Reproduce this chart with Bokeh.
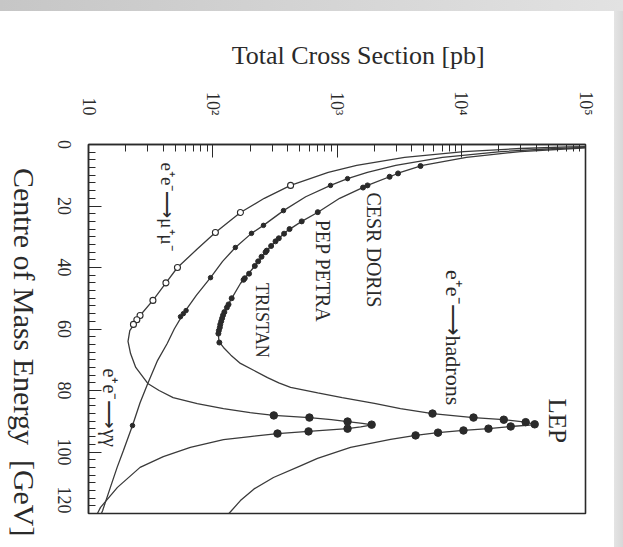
from math import pi
from bokeh.plotting import figure
from bokeh.models import Range1d, FixedTicker, LinearAxis, LogAxis, Div
from bokeh.layouts import column, row
from bokeh.core.properties import value
from bokeh.embed import file_html
from bokeh.resources import INLINE

# ---------------- axis ticks ----------------
sigma_ticks = [10, 100, 1000, 10000, 100000]
sigma_tick_labels = ["10", "10²", "10³", "10⁴", "10⁵"]
energy_ticks = [0, 20, 40, 60, 80, 100, 120]
energy_tick_labels = ["0", "20", "40", "60", "80", "100", "120"]

# ---------------- theory curves (E in GeV, sigma in pb) ----------------
mumu_E = [0.6, 0.8, 1.3, 2.3, 4.2, 6.8, 9.1, 13.3, 17.5, 22.1, 28.6, 34.0, 40.0, 45.0,
          50.7, 55.6, 60.5, 64.0, 68.0, 72.5, 77.7, 80.0, 82.3, 84.3, 85.9, 87.2, 88.1,
          88.8, 89.5, 90.1, 90.7, 91.2, 91.8, 92.4, 93.3, 94.0, 95.0, 96.0, 98.5, 101.5,
          105.0, 111.5, 118.0, 120.0]
mumu_sigma = [120000, 72000, 30000, 10500, 3500, 1440, 850, 423, 260, 167, 105, 75, 52, 42,
              33, 26, 21.5, 20.8, 21.8, 24, 30, 37, 48, 75, 122, 200, 310,
              600, 900, 1216, 1600, 1930, 1550, 1216, 590, 332, 200, 122, 66, 40,
              26, 17.1, 12.5, 11.8]

gg_E = [0.95, 1.3, 2.3, 4.2, 6.8, 9.1, 11.1, 13.3, 17.0, 21.5, 26.3, 28.9, 33.5, 38.0,
        43.3, 49.0, 55.0, 60.0, 64.7, 70.2, 77.7, 84.0, 91.4, 99.5, 105.0, 111.5, 119.0, 120.0]
gg_sigma = [100000, 58000, 20900, 7070, 2970, 1756, 1216, 887, 560, 371, 256, 205, 152, 120,
            96, 74, 58, 49, 43, 36, 30, 26, 22.6, 19.1, 17.0, 15.0, 13.0, 12.7]

had_E = [1.1, 1.3, 2.3, 4.2, 6.8, 9.1, 13.3, 17.5, 22.1, 25.0, 28.0, 31.2, 34.0, 40.0,
         45.2, 50.7, 55.0, 58.5, 61.5, 64.0, 66.0, 68.5, 71.2, 73.5, 75.8, 77.5, 79.0,
         80.8, 82.3, 84.2, 85.9, 87.5, 88.8, 89.5, 90.3, 91.1, 91.7, 92.4, 93.0, 93.7,
         94.6, 95.9, 98.5, 102.1, 104.5, 108.3, 112.0, 115.8, 120.0]
had_sigma = [100000, 80000, 30000, 11000, 4880, 3240, 1760, 1050, 697, 520, 400, 325, 280, 213,
             167, 139, 122, 115, 111, 112, 122, 140, 167, 215, 276, 340, 423,
             700, 1100, 2000, 3240, 5870, 12550, 22000, 33000, 40000, 25000, 16560, 10420, 6500,
             4290, 2700, 1285, 697, 508, 308, 215, 167, 135]

# ---------------- measurements ----------------
had_data_E = [7.0, 9.4, 10.5, 13.3, 14.0, 22.0, 25.0, 27.5, 29.0, 30.5, 31.5, 33.0, 34.5, 35.0,
              36.5, 38.0, 39.5, 42.0, 43.5, 44.0, 50.0, 52.0, 53.0, 54.5, 55.5, 56.5, 57.5,
              58.5, 59.5, 60.5, 61.5, 64.4]
had_data_sigma = [4700, 3100, 2650, 1760, 1620, 700, 520, 415, 375, 340, 320, 295, 272, 266,
                  247, 232, 218, 196, 181, 177, 142, 134, 130, 124, 121, 119, 117,
                  115, 114, 112, 111, 113]

lep_had_E = [87.5, 88.8, 89.5, 90.3, 91.0, 91.7, 92.4, 93.0, 93.7, 94.6]
lep_had_sigma = [5870, 12550, 22000, 33000, 39000, 25000, 16560, 10420, 6500, 4290]

lep_mumu_E = [88.1, 88.8, 90.1, 91.1, 92.4, 93.3, 94.0]
lep_mumu_sigma = [310, 600, 1216, 1900, 1216, 590, 332]

gg_data_E = [11.1, 13.3, 21.5, 26.3, 28.9, 33.5, 43.3, 54.0, 55.0, 56.0, 91.4]
gg_data_sigma = [1216, 887, 371, 256, 205, 152, 96, 61, 58, 55, 22.6]

mumu_data_E = [13.3, 22.1, 28.6, 40.0, 45.0, 50.7, 55.6, 57.0, 58.5]
mumu_data_sigma = [423, 167, 105, 52, 42, 33, 26, 24.5, 23]

# ---------------- annotations ----------------
note_text = ["e⁺e⁻⟶μ⁺μ⁻", "PEP  PETRA", "CESR  DORIS", "TRISTAN", "e⁺e⁻⟶hadrons", "e⁺e⁻⟶γγ", "LEP"]
note_E = [20.2, 42.0, 35.1, 57.2, 62.8, 85.6, 89.8]
note_sigma = [43, 778, 1968, 251, 8670, 15, 59600]
note_size = ["19px", "20px", "20px", "18px", "22px", "20px", "25px"]

title_text = "Total Cross Section  [pb]"
title_sigma = 1574
xlabel_text = "Centre of Mass Energy  [GeV]"

FONT = "Liberation Serif"
INK = "#2a2a2a"
PX_PER_GEV = 369 / 120.0
TICK_FS = 18
LEFT_W = 46

p = figure(width=623 - LEFT_W - 9, height=536, x_axis_type="log", x_axis_location="above",
           x_range=Range1d(10, 1e5), y_range=Range1d(120, 0),
           output_backend="svg", toolbar_location=None,
           min_border_left=88 - LEFT_W, min_border_right=29, min_border_top=133,
           min_border_bottom=34)
p.grid.visible = False
p.outline_line_color = INK
p.outline_line_width = 1.6
p.background_fill_color = "white"
p.border_fill_color = "white"

minor_sigma = [m * d for d in [10, 100, 1000, 10000] for m in range(2, 10)]
p.xaxis.ticker = FixedTicker(ticks=sigma_ticks, minor_ticks=minor_sigma)
p.xaxis.major_label_overrides = dict(zip(sigma_ticks, sigma_tick_labels))
p.yaxis.ticker = FixedTicker(ticks=energy_ticks, minor_ticks=[i * 2.5 for i in range(49)])
p.yaxis.major_label_overrides = {t: "" for t in energy_ticks}

for ax in (p.xaxis[0], p.yaxis[0]):
    ax.major_label_orientation = -pi / 2
    ax.major_label_text_font = FONT
    ax.major_label_text_color = INK
    ax.axis_line_color = INK
    ax.axis_line_width = 1.4
    ax.major_tick_line_color = INK
    ax.minor_tick_line_color = INK
    ax.major_tick_out = 0
    ax.minor_tick_out = 0
    ax.major_tick_in = 13
    ax.minor_tick_in = 7
p.xaxis.major_label_text_font_size = f"{TICK_FS}px"
p.yaxis.major_label_text_font_size = "1px"
p.xaxis.major_label_standoff = 29
p.yaxis.major_label_standoff = 0

# energy tick labels read top-to-bottom; the axis anchors them at their end,
# so each anchor sits half a label length below its tick (kept inside the range)
label_anchor = [round(min(120.0, t + (0.5 * TICK_FS * len(s) / 2) / PX_PER_GEV), 2)
                for t, s in zip(energy_ticks, energy_tick_labels)]
elabel_axis = LinearAxis(ticker=FixedTicker(ticks=label_anchor),
                         major_label_overrides=dict(zip(label_anchor, energy_tick_labels)),
                         major_label_orientation=-pi / 2, major_label_standoff=18,
                         major_label_text_font=FONT, major_label_text_font_size=f"{TICK_FS}px",
                         major_label_text_color=INK, axis_line_color=None,
                         major_tick_line_color=None, minor_tick_line_color=None)
p.add_layout(elabel_axis, "left")

# horizontal plot title drawn as a single-label axis above the tick labels
title_axis = LogAxis(ticker=FixedTicker(ticks=[title_sigma]),
                     major_label_overrides={title_sigma: title_text},
                     major_label_orientation="horizontal", major_label_standoff=13,
                     major_label_text_font=FONT, major_label_text_font_size="26px",
                     major_label_text_color=INK, axis_line_color=None,
                     major_tick_line_color=None, minor_tick_line_color=None)
p.add_layout(title_axis, "above")

# curves
for E, s in ((mumu_E, mumu_sigma), (gg_E, gg_sigma), (had_E, had_sigma)):
    p.line(s, E, line_color="#3a3a3a", line_width=1.3)

# data
p.scatter(mumu_data_sigma, mumu_data_E, marker="circle", size=6, fill_color="white",
          line_color=INK, line_width=1.1)
p.scatter(gg_data_sigma, gg_data_E, marker="circle", size=4.5, fill_color=INK, line_color=INK)
p.scatter(had_data_sigma, had_data_E, marker="circle", size=5, fill_color=INK, line_color=INK)
p.scatter(lep_had_sigma, lep_had_E, marker="circle", size=7.5, fill_color=INK, line_color=INK)
p.scatter(lep_mumu_sigma, lep_mumu_E, marker="circle", size=7.5, fill_color=INK, line_color=INK)

p.text(x=note_sigma, y=note_E, text=note_text, angle=-pi / 2, text_align="center",
       text_baseline="middle", text_font=value(FONT), text_font_size=note_size, text_color=INK)

# energy-axis title (reads top to bottom, like the rotated original)
xlabel_html = ('<div style="writing-mode:vertical-rl;font-family:\'Liberation Serif\',serif;'
               'font-size:30px;line-height:30px;color:#2a2a2a;white-space:nowrap;'
               'margin:157px 0 0 9px;">' + xlabel_text.replace("  ", "&nbsp;&nbsp;") + '</div>')
left_label = Div(text=xlabel_html, width=LEFT_W, height=536, margin=0)

top_band = Div(text="", width=623, height=11, margin=0,
               styles={"background": "linear-gradient(to right, #c6c6c6, #e2e2e2)"})
side_band = Div(text="", width=9, height=536, margin=0,
                styles={"background": "linear-gradient(to right, #e4e4e4, #d8d8d8)"})
layout = column(top_band, row(left_label, p, side_band, spacing=0), spacing=0)

open("out.html", "w").write(file_html(layout, INLINE))
